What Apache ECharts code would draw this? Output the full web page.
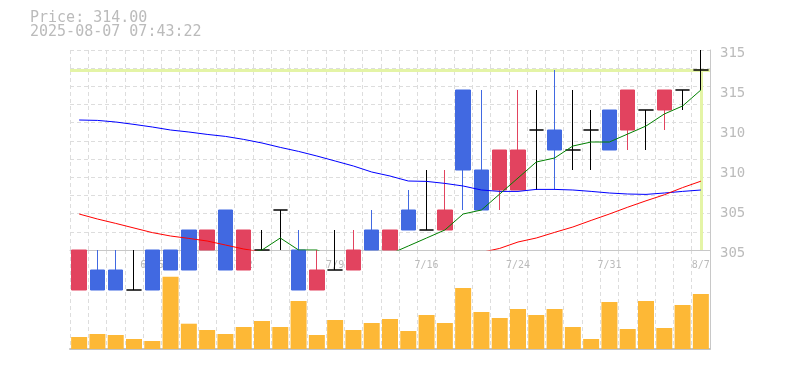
<!DOCTYPE html>
<html>
<head>
<meta charset="utf-8">
<script src="https://cdn.jsdelivr.net/npm/echarts@6/dist/echarts.min.js"></script>
<style>html,body{margin:0;padding:0;background:#fff;}#c{width:785px;height:370px;}</style>
</head>
<body>
<div id="c"></div>
<script>
var categories = ['6/19','6/20','6/23','6/24','6/25','6/26','6/27','6/30','7/1','7/2',
  '7/3','7/4','7/7','7/8','7/9','7/10','7/11','7/14','7/15','7/16',
  '7/17','7/18','7/22','7/23','7/24','7/25','7/28','7/29','7/30','7/31',
  '8/1','8/4','8/5','8/6','8/7'];
// [open, close, low, high]
var ohlc = [
  [303,305,303,305],[304,303,303,305],[304,303,303,305],[303,303,303,305],[305,303,303,305],
  [305,304,304,305],[306,304,304,306],[305,306,305,306],[307,304,304,307],[304,306,304,306],
  [305,305,305,306],[307,307,305,307],[305,303,303,306],[303,304,303,305],[304,304,304,306],
  [304,305,304,306],[306,305,305,307],[305,306,305,306],[307,306,306,308],[306,306,306,309],
  [306,307,306,309],[313,309,307,313],[309,307,307,313],[308,310,307,310],[308,310,308,313],
  [311,311,308,313],[311,310,308,314],[310,310,309,313],[311,311,309,312],[312,310,310,312],
  [311,313,310,313],[312,312,310,312],[312,313,311,313],[313,313,312,313],[314,314,313,315]
];
var volumes = [1200,1500,1400,1000,800,7230,2530,1900,1500,2200,
  2800,2200,4800,1400,2900,1900,2600,3000,1800,3400,
  2600,6100,3700,3100,4000,3400,4000,2200,1000,4700,
  2000,4800,2100,4400,5500];
var ma5 = [304.4,304.2,304.0,303.8,303.4,303.2,303.4,304.0,304.2,304.8,
  305.0,305.6,305.0,305.0,304.6,304.6,304.2,304.8,305.2,305.6,
  306.0,306.8,307.0,307.8,308.6,309.4,309.6,310.2,310.4,310.4,
  310.8,311.2,311.8,312.2,313.0];
var ma25 = [306.8,306.55,306.33,306.1,305.87,305.7,305.58,305.45,305.25,305.05,
  304.9,304.75,304.6,304.5,304.4,304.35,304.3,304.3,304.35,304.45,
  304.55,304.7,304.88,305.08,305.4,305.6,305.88,306.15,306.48,306.8,
  307.14,307.46,307.76,308.12,308.44];
var ma75 = [311.5,311.48,311.4,311.28,311.15,311.0,310.9,310.78,310.68,310.53,
  310.35,310.13,309.93,309.7,309.45,309.2,308.9,308.7,308.45,308.43,
  308.33,308.2,308.0,307.93,307.93,308.03,308.03,308.0,307.93,307.85,
  307.8,307.78,307.85,307.93,308.0];
var yTicks = {min: 305, max: 315, interval: 2};
var lastPrice = 314;
var priceTitle = 'Price: 314.00';
var stampTitle = '2025-08-07 07:43:22';

var mono = 'DejaVu Sans Mono';
var dash = {color: '#dddddd', type: [4, 3], width: 1};
var lastIdx = categories.length - 1;

var chart = echarts.init(document.getElementById('c'), null, {renderer: 'canvas'});
chart.setOption({
  animation: false,
  backgroundColor: '#ffffff',
  title: {
    text: priceTitle + '\n' + stampTitle,
    left: 30, top: 11, padding: 0,
    textStyle: {fontFamily: mono, fontSize: 15, fontWeight: 'normal', color: '#bbbbbb', lineHeight: 14}
  },
  grid: [
    {left: 70, right: 75, top: 50, height: 200},
    {left: 70, right: 75, top: 250, height: 99}
  ],
  xAxis: [
    {type: 'category', gridIndex: 0, data: categories, boundaryGap: true,
     axisLine: {lineStyle: {color: '#c8c8c8', width: 1}},
     axisTick: {show: false},
     axisLabel: {color: '#bbbbbb', fontFamily: mono, fontSize: 10, margin: 10,
       interval: function (i) { return (lastIdx - i) % 5 === 0; }},
     splitLine: {show: true, interval: 0, lineStyle: dash}},
    {type: 'category', gridIndex: 1, data: categories, boundaryGap: true,
     axisLine: {lineStyle: {color: '#c4c4c4', width: 2}},
     axisTick: {show: false}, axisLabel: {show: false},
     splitLine: {show: true, interval: 0, lineStyle: dash}}
  ],
  yAxis: [
    {type: 'value', gridIndex: 0, position: 'right', min: yTicks.min, max: yTicks.max, interval: yTicks.interval,
     axisLine: {show: true, lineStyle: {color: '#c8c8c8'}}, axisTick: {show: false},
     axisLabel: {color: '#bbbbbb', fontFamily: mono, fontSize: 14, margin: 10,
       verticalAlign: 'top', lineHeight: 6,
       formatter: function (v) { return String(Math.round(v / 5) * 5); }},
     splitLine: {show: false}},
    {type: 'value', gridIndex: 0, position: 'left', min: 0, max: 11, interval: 1,
     axisLine: {show: false}, axisTick: {show: false}, axisLabel: {show: false},
     splitLine: {show: true, lineStyle: dash}},
    {type: 'value', gridIndex: 1, position: 'right', min: 0, max: 9900,
     axisLine: {show: true, lineStyle: {color: '#c8c8c8'}}, axisTick: {show: false}, axisLabel: {show: false},
     splitLine: {show: false}}
  ],
  series: [
    {type: 'candlestick', xAxisIndex: 0, yAxisIndex: 0, data: ohlc, barWidth: 15, clip: false,
     itemStyle: {color: '#e2435f', color0: '#4169e1', borderColor: '#e2435f', borderColor0: '#4169e1',
       borderColorDoji: '#000000', borderWidth: 1},
     markLine: {silent: true, symbol: 'none', z: 1, label: {show: false},
       lineStyle: {color: '#e4f4a6', width: 3, type: 'solid'},
       data: [
         {yAxis: lastPrice},
         [{coord: [lastIdx, lastPrice]}, {coord: [lastIdx, yTicks.min]}]
       ]}},
    {type: 'line', xAxisIndex: 0, yAxisIndex: 0, data: ma75, symbol: 'none', lineStyle: {color: '#0000ff', width: 1}},
    {type: 'line', xAxisIndex: 0, yAxisIndex: 0, data: ma25, symbol: 'none', lineStyle: {color: '#ff0000', width: 1}},
    {type: 'line', xAxisIndex: 0, yAxisIndex: 0, data: ma5, symbol: 'none', lineStyle: {color: '#008000', width: 1}},
    {type: 'bar', xAxisIndex: 1, yAxisIndex: 2, data: volumes, barWidth: 16, itemStyle: {color: '#fdb836'}}
  ]
});
</script>
</body>
</html>
